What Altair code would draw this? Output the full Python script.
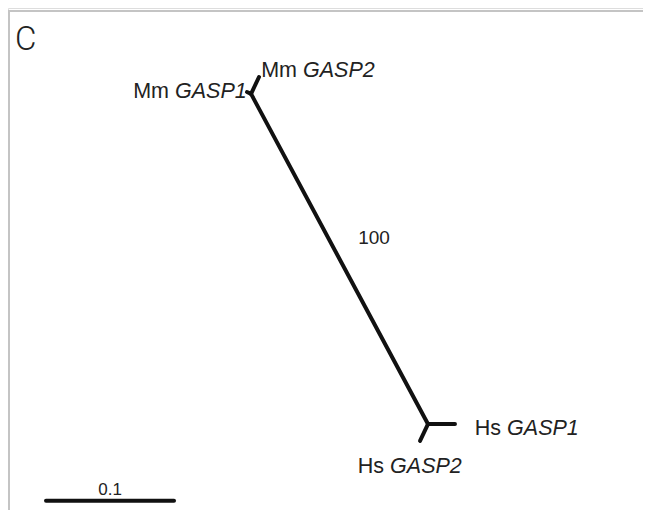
import altair as alt
import pandas as pd

# ---- tree data (branch-length units) ----
node_names = ["Mm_node", "Mm GASP1", "Mm GASP2", "Hs_node", "Hs GASP1", "Hs GASP2"]
node_x = [0.1602, 0.1570, 0.1664, 0.2984, 0.3195, 0.2922]
node_y = [0.3313, 0.3328, 0.3445, 0.0734, 0.0734, 0.0602]
edge_from = ["Mm_node", "Mm_node", "Mm_node", "Hs_node", "Hs_node"]
edge_to = ["Mm GASP1", "Mm GASP2", "Hs_node", "Hs GASP1", "Hs GASP2"]

# leaf labels: species prefix (regular) + gene name (italic)
label_species = ["Mm", "Mm", "Hs", "Hs"]
label_gene = ["GASP2", "GASP1", "GASP1", "GASP2"]
label_x = [0.2008, 0.1008, 0.3602, 0.2688]
label_y = [0.3445, 0.3281, 0.0648, 0.0352]

# bootstrap support
boot_text = ["100"]
boot_x = [0.2563]
boot_y = [0.2141]

# scale bar
scale_len = 0.1
scale_label = ["0.1"]
scale_y = 0.0135
scale_label_y = 0.0180

panel_letter = ["C"]
letter_x = [-0.0242]
letter_y = [0.3734]

# ---- build tables ----
pos = {n: (x, y) for n, x, y in zip(node_names, node_x, node_y)}
edges = pd.DataFrame({
    "x": [pos[a][0] for a in edge_from],
    "y": [pos[a][1] for a in edge_from],
    "x2": [pos[b][0] for b in edge_to],
    "y2": [pos[b][1] for b in edge_to],
})
labels = pd.DataFrame({"sp": label_species, "gene": label_gene,
                       "x": label_x, "y": label_y})
boots = pd.DataFrame({"t": boot_text, "x": boot_x, "y": boot_y})
scale = pd.DataFrame({"x": [0.0], "x2": [scale_len], "y": [scale_y],
                      "t": scale_label, "xm": [scale_len / 2],
                      "ty": [scale_label_y]})
letter = pd.DataFrame({"t": panel_letter, "x": letter_x, "y": letter_y})
dummy = pd.DataFrame({"a": [0]})

W, H = 635, 502
xs = alt.Scale(domain=[-0.0297, 0.4664], nice=False, zero=False)
ys = alt.Scale(domain=[0.00625, 0.3984], nice=False, zero=False)
X = lambda f: alt.X(f, type="quantitative", scale=xs, axis=None)
Y = lambda f: alt.Y(f, type="quantitative", scale=ys, axis=None)

line_col = "#111111"
txt_col = "#222222"
font = "Liberation Sans"
fs = 21.5

branches = alt.Chart(edges).mark_rule(
    strokeWidth=4, color=line_col, strokeCap="round"
).encode(x=X("x"), y=Y("y"), x2="x2", y2="y2")

sp_text = alt.Chart(labels).mark_text(
    align="right", baseline="alphabetic", dx=-6, fontSize=fs, font=font,
    color=txt_col
).encode(x=X("x"), y=Y("y"), text="sp:N")

gene_text = alt.Chart(labels).mark_text(
    align="left", baseline="alphabetic", fontSize=fs, font=font,
    fontStyle="italic", color=txt_col
).encode(x=X("x"), y=Y("y"), text="gene:N")

boot_layer = alt.Chart(boots).mark_text(
    align="center", baseline="alphabetic", fontSize=19, font=font, color=txt_col
).encode(x=X("x"), y=Y("y"), text="t:N")

scale_bar = alt.Chart(scale).mark_rule(
    strokeWidth=4, color=line_col, strokeCap="round"
).encode(x=X("x"), x2="x2", y=Y("y"))

scale_text = alt.Chart(scale).mark_text(
    align="center", baseline="alphabetic", fontSize=17, font=font, color=txt_col
).encode(x=X("xm"), y=Y("ty"), text="t:N")

letter_layer = alt.Chart(letter).mark_text(
    align="left", baseline="middle", fontSize=33, font="Roboto", fontWeight=300,
    color=txt_col
).encode(x=X("x"), y=Y("y"), text="t:N")

top_border = alt.Chart(dummy).mark_rule(color="#c4c4c4", strokeWidth=2).encode(
    x=alt.value(0), x2=alt.value(W), y=alt.value(3))
left_border = alt.Chart(dummy).mark_rule(color="#c4c4c4", strokeWidth=2).encode(
    x=alt.value(1), y=alt.value(3), y2=alt.value(H))

chart = alt.layer(
    top_border, left_border, branches, scale_bar,
    sp_text, gene_text, boot_layer, scale_text, letter_layer
).properties(
    width=W, height=H, padding=0,
    autosize=alt.AutoSizeParams(type="none")
).configure_view(strokeWidth=0, stroke="transparent").configure(background="white")

chart.save("out.html", embed_options={"renderer": "svg", "actions": False})
